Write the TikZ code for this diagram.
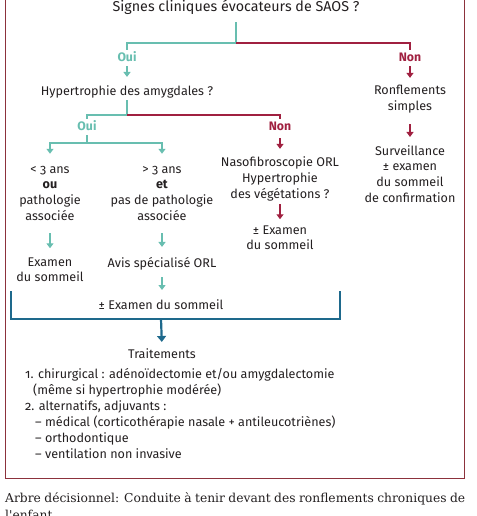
\documentclass[tikz,border=0pt]{standalone}
\usepackage{fontspec}
\setmainfont{Fira Sans}[Numbers=OldStyle]
\newfontfamily\capfont{DejaVu Serif}[WordSpace={0.8,1,1}]
\usetikzlibrary{arrows.meta}
\definecolor{tealc}{RGB}{104,190,176}
\definecolor{redc}{RGB}{160,32,64}
\definecolor{bluec}{RGB}{30,105,140}
\definecolor{framec}{RGB}{140,50,60}
\definecolor{ink}{RGB}{35,31,32}
\begin{document}
\begin{tikzpicture}[x=1pt,y=-1pt,
  txt/.style={inner sep=0pt, align=center, text=ink,
    font=\fontsize{12.6}{15.7}\selectfont,
    execute at begin node=\strut, execute at end node=\strut},
  lab/.style={txt, font=\fontsize{12.3}{15.7}\selectfont\bfseries},
  lst/.style={inner sep=0pt, anchor=mid west, text=ink, font=\fontsize{12.6}{15.7}\selectfont},
  tl/.style={draw=tealc, line width=1.7pt},
  rd/.style={draw=redc, line width=1.7pt},
  bl/.style={draw=bluec, line width=2.2pt},
  tip/.style={-{Triangle[width=7pt,length=5pt]}},
  bigtip/.style={-{Triangle[width=9pt,length=6pt]}}
]
\useasboundingbox (0,0) rectangle (476,516);
\draw[framec, line width=1pt] (5,-10) rectangle (464,478);

% texts
\node[txt, font=\fontsize{14.3}{16}\selectfont] (t) at (236,8) {Signes cliniques évocateurs de SAOS ?};
\node[lab, text=tealc] (oui1) at (127,58) {Oui};
\node[lab, text=redc] (non1) at (410,58) {Non};
\node[txt] (hyp) at (127,92) {Hypertrophie des amygdales ?};
\node[txt] (ronf) at (410,100) {Ronflements\\simples};
\node[lab, text=tealc] (oui2) at (87,127) {Oui};
\node[lab, text=redc] (non2) at (280,127) {Non};
\node[txt] (a) at (50,195.5) {< 3 ans\\\textbf{ou}\\pathologie\\associée};
\node[txt] (b) at (162,195.5) {> 3 ans\\\textbf{et}\\pas de pathologie\\associée};
\node[txt] (naso) at (280,180) {Nasofibroscopie ORL\\Hypertrophie\\des végétations ?};
\node[txt] (exam2) at (280,240) {± Examen\\du sommeil};
\node[txt] (surv) at (410,176) {Surveillance\\± examen\\du sommeil\\de confirmation};
\node[txt] (exam1) at (50,272) {Examen\\du sommeil};
\node[txt] (avis) at (162,264) {Avis spécialisé ORL};
\node[txt] (exam3) at (161,306) {± Examen du sommeil};
\node[txt] (trait) at (162,355) {Traitements};
\node[lst] (l1) at (25,376) {1. chirurgical : adénoïdectomie et/ou amygdalectomie};
\node[lst] (l2) at (33,392) {(même si hypertrophie modérée)};
\node[lst] (l3) at (25,408) {2. alternatifs, adjuvants :};
\node[lst] (l4) at (35,424) {– médical (corticothérapie nasale + antileucotriènes)};
\node[lst] (l5) at (35,440) {– orthodontique};
\node[lst] (l6) at (35,456) {– ventilation non invasive};

\node[inner sep=0pt, anchor=north west, align=left, text=ink,
  font=\capfont\fontsize{12.3}{17}\selectfont] (cap) at (5,492)
  {\makebox[460pt][s]{Arbre décisionnel: Conduite à tenir devant des ronflements chroniques de}\\l'enfant.};

% junctions
\coordinate (j1) at (236,43);
\coordinate (j2) at (127,115);
\coordinate (j3) at (87,143);
\coordinate (brl) at (11,292);
\coordinate (brr) at (340,292);
\coordinate (brb) at (161,319);

% connectors
\draw[tl, shorten <=6pt] (t.south) -- (j1);
\draw[tl] (j1) -| (oui1.north);
\draw[rd] (j1) -| (non1.north);
\draw[tl, tip, shorten >=7pt] (oui1.south) -- (hyp.north);
\draw[rd, tip, shorten >=7pt] (non1.south) -- (ronf.north);
\draw[tl] (hyp.south) -- (j2);
\draw[tl] (j2) -| (oui2.north);
\draw[rd] (j2) -| (non2.north);
\draw[tl] (oui2.south) -- (j3);
\draw[tl, tip, shorten >=12pt] (j3) -| (a.north);
\draw[tl, tip, shorten >=12pt] (j3) -| (b.north);
\draw[rd, tip, shorten <=3pt, shorten >=8pt] (non2.south) -- (naso.north);
\draw[rd, tip, shorten <=1pt, shorten >=6pt] (naso.south) -- (exam2.north);
\draw[rd, tip, shorten <=9pt, shorten >=8pt] (ronf.south) -- (surv.north);
\draw[tl, tip, shorten <=8pt, shorten >=9pt] (a.south) -- (exam1.north);
\draw[tl, tip, shorten <=8pt, shorten >=9pt] (b.south) -- (avis.north);
\draw[tl, tip, shorten <=5pt, shorten >=2pt] (avis.south) -- (avis.south |- brl);
\draw[bl, line cap=rect] (brl) |- (brb) -| (brr);
\draw[bl, bigtip, shorten >=5pt] (brb) -- (trait.north);
\end{tikzpicture}
\end{document}
